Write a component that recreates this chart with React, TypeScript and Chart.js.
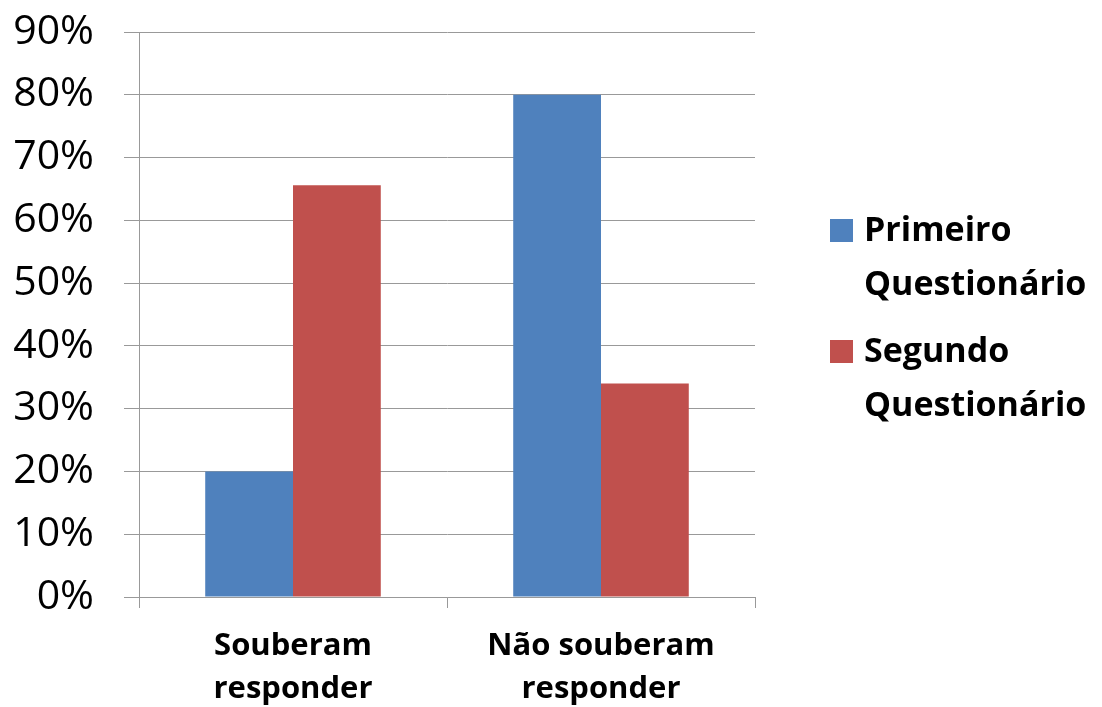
import React, { useEffect, useRef } from "react";
import { Chart, registerables } from "chart.js";

Chart.register(...registerables);

const categories: string[][] = [
  ["Souberam", "responder"],
  ["Não souberam", "responder"],
];
const seriesNames: string[][] = [
  ["Primeiro", "Questionário"],
  ["Segundo", "Questionário"],
];
const primeiroValues: number[] = [20, 80];
const segundoValues: number[] = [65.6, 34];
const seriesColors: string[] = ["#4F81BD", "#C0504D"];
const yMax = 90;
const yStep = 10;

const FONT = "'Open Sans', 'DejaVu Sans', sans-serif";

const legendPlugin = {
  id: "sideLegend",
  afterDraw(chart: any) {
    const ctx = chart.ctx;
    ctx.save();
    const starts = [231, 352];
    chart.data.datasets.forEach((ds: any, i: number) => {
      const y0 = starts[i];
      ctx.fillStyle = ds.backgroundColor;
      ctx.fillRect(830, y0 - 12, 23, 23);
      ctx.fillStyle = "#000";
      ctx.font = `bold 34px ${FONT}`;
      ctx.textBaseline = "middle";
      ctx.textAlign = "left";
      const lines: string[] = seriesNames[i];
      lines.forEach((line, k) => {
        ctx.fillText(line, 864, y0 + k * 54);
      });
    });
    ctx.restore();
  },
};

export default function App() {
  const ref = useRef<HTMLCanvasElement | null>(null);
  useEffect(() => {
    document.body.style.margin = "0";
    if (!ref.current) return;
    const chart = new Chart(ref.current, {
      type: "bar",
      data: {
        labels: categories as any,
        datasets: [
          {
            label: seriesNames[0].join(" "),
            data: primeiroValues,
            backgroundColor: seriesColors[0],
            borderWidth: 0,
            categoryPercentage: 0.57,
            barPercentage: 1,
          },
          {
            label: seriesNames[1].join(" "),
            data: segundoValues,
            backgroundColor: seriesColors[1],
            borderWidth: 0,
            categoryPercentage: 0.57,
            barPercentage: 1,
          },
        ],
      },
      options: {
        animation: false,
        responsive: false,
        maintainAspectRatio: false,
        layout: { padding: { top: 32, right: 347, left: 0, bottom: 0 } },
        plugins: {
          legend: { display: false },
          tooltip: { enabled: false },
        },
        scales: {
          x: {
            afterFit: (scale: any) => {
              scale.height = 110;
              scale.paddingLeft = 0;
              scale.paddingRight = 0;
            },
            grid: {
              drawOnChartArea: false,
              drawTicks: true,
              tickLength: 11,
              color: "#999999",
              offset: true,
            },
            border: { color: "#999999", width: 1 },
            ticks: {
              color: "#000",
              padding: 16,
              maxRotation: 0,
              autoSkip: false,
              font: { family: FONT, size: 31, weight: "bold", lineHeight: 1.4 },
            },
          },
          y: {
            min: 0,
            max: yMax,
            afterFit: (scale: any) => {
              scale.width = 139;
              scale.paddingTop = 0;
              scale.paddingBottom = 0;
            },
            grid: {
              color: "#999999",
              tickLength: 15,
              lineWidth: 1,
            },
            border: { color: "#999999", width: 1 },
            ticks: {
              stepSize: yStep,
              color: "#000",
              padding: 30,
              font: { family: FONT, size: 41 },
              callback: (v: any) => `${v}%`,
            },
          },
        },
      },
      plugins: [legendPlugin],
    });
    return () => chart.destroy();
  }, []);
  return (
    <div style={{ width: 1102, height: 707 }}>
      <canvas ref={ref} width={1102} height={707} style={{ display: "block" }} />
    </div>
  );
}
